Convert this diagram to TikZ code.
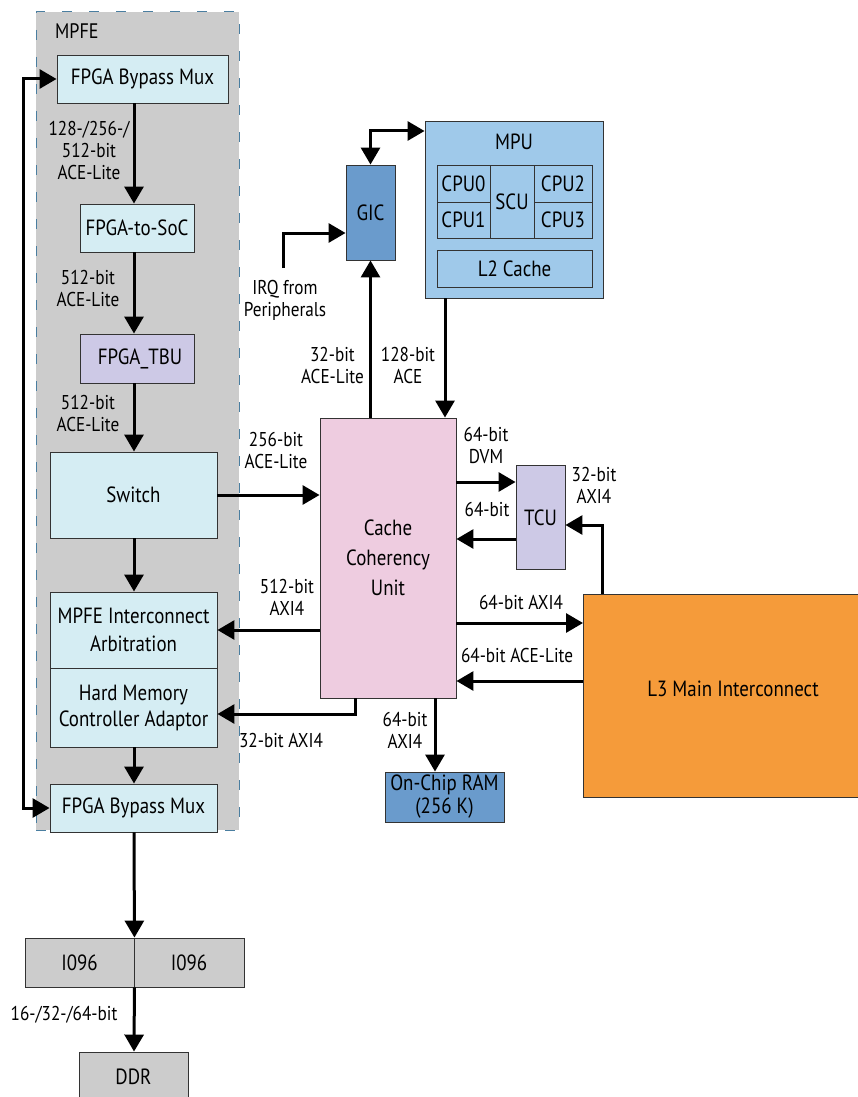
\documentclass[tikz,border=0pt]{standalone}
\usepackage{fontspec}
\setmainfont[FakeStretch=0.86]{PT Sans}
\usetikzlibrary{arrows.meta,calc}
\definecolor{mpfegray}{HTML}{CCCCCC}
\definecolor{dashblue}{HTML}{4A7EA0}
\definecolor{cyanbox}{HTML}{D5EDF3}
\definecolor{lavbox}{HTML}{CDC9E6}
\definecolor{mpubox}{HTML}{9FC9EA}
\definecolor{gicbox}{HTML}{6A9BCC}
\definecolor{ccubox}{HTML}{EECCE0}
\definecolor{l3box}{HTML}{F59B3A}
\definecolor{edge}{HTML}{333333}
\begin{document}
\begin{tikzpicture}[x=1pt,y=-1pt,
  every node/.style={font=\fontsize{22}{27}\selectfont, text=black},
  blk/.style={draw=edge, line width=0.9pt, inner sep=0pt, align=center},
  lbl/.style={inner sep=0pt, align=center, font=\fontsize{20}{22}\selectfont},
  arr/.style={line width=3pt, -{Triangle[length=17pt,width=19pt]}},
  darr/.style={line width=3pt, {Triangle[length=17pt,width=19pt]}-{Triangle[length=17pt,width=19pt]}}]
\useasboundingbox (0,0) rectangle (857,1097);
% MPFE region
\node[fill=mpfegray, draw=dashblue, line width=1pt, dash pattern=on 10pt off 17pt, minimum width=203pt, minimum height=818pt, inner sep=0pt] (mpfe) at (137.5,421) {};
\node[lbl, anchor=west, font=\fontsize{21}{22}\selectfont] (mpfelbl) at (55,31) {MPFE};
% MPFE blocks
\node[blk, fill=cyanbox, minimum width=171pt, minimum height=48pt] (bmux1) at (142.5,79) {FPGA Bypass Mux};
\node[blk, fill=cyanbox, minimum width=114pt, minimum height=48pt] (f2s) at (137,228) {FPGA-to-SoC};
\node[blk, fill=lavbox, minimum width=114pt, minimum height=49pt] (tbu) at (137,358.5) {\hspace*{6pt}FPGA\_TBU};
\node[blk, fill=cyanbox, minimum width=167pt, minimum height=86pt] (sw) at (133.5,495) {Switch};
\node[blk, fill=cyanbox, minimum width=167pt, minimum height=76pt, font=\fontsize{22}{28}\selectfont] (arb) at (133.5,630) {MPFE Interconnect\\Arbitration};
\node[blk, fill=cyanbox, minimum width=167pt, minimum height=79pt, font=\fontsize{22}{26}\selectfont] (hmc) at (133.5,707.5) {Hard Memory\\Controller Adaptor};
\node[blk, fill=cyanbox, minimum width=167pt, minimum height=48pt] (bmux2) at (133.5,808) {FPGA Bypass Mux};
% IO and DDR
\node[blk, fill=mpfegray, minimum width=109pt, minimum height=49pt] (io1) at (79.5,962.5) {I096};
\node[blk, fill=mpfegray, minimum width=110pt, minimum height=49pt] (io2) at (189,962.5) {I096};
\node[blk, fill=mpfegray, minimum width=109pt, minimum height=60pt] (ddr) at (133.5,1082) {\raisebox{10pt}{DDR}};
% MPU
\node[blk, fill=mpubox, minimum width=178pt, minimum height=177pt] (mpu) at (514,209.5) {};
\node[inner sep=0pt] (mputxt) at (514,142) {MPU};
\node[blk, fill=mpubox, minimum width=53pt, minimum height=37pt] (cpu0) at (463.5,183.5) {CPU0};
\node[blk, fill=mpubox, minimum width=53pt, minimum height=36pt] (cpu1) at (463.5,220) {CPU1};
\node[blk, fill=mpubox, minimum width=44pt, minimum height=73pt] (scu) at (512,201.5) {SCU};
\node[blk, fill=mpubox, minimum width=58pt, minimum height=37pt] (cpu2) at (563,183.5) {CPU2};
\node[blk, fill=mpubox, minimum width=58pt, minimum height=36pt] (cpu3) at (563,220) {CPU3};
\node[blk, fill=mpubox, minimum width=155pt, minimum height=37pt] (l2) at (514.5,268.5) {L2 Cache};
% GIC
\node[blk, fill=gicbox, minimum width=49pt, minimum height=95pt] (gic) at (370.5,212.5) {GIC};
% CCU
\node[blk, fill=ccubox, minimum width=136pt, minimum height=280pt, font=\fontsize{22}{30}\selectfont] (ccu) at (388,558) {Cache\\Coherency\\Unit};
% TCU
\node[blk, fill=lavbox, minimum width=49pt, minimum height=104pt] (tcu) at (540.5,517.5) {TCU};
% L3
\node[blk, fill=l3box, minimum width=290pt, minimum height=203pt, anchor=north west] (l3) at (583,594) {};
\node[inner sep=0pt] (l3txt) at (733,689) {L3 Main Interconnect};
% On-chip RAM
\node[blk, fill=gicbox, minimum width=119pt, minimum height=50pt, font=\fontsize{22}{23}\selectfont] (ocr) at (444.5,797) {On-Chip RAM\\(256 K)};
% IRQ
\node[lbl] (irq) at (285,300) {IRQ from\\Peripherals};
\coordinate (irqs) at (283,268);
% coordinates for connector positions
\coordinate (colX) at (134,0);
\coordinate (bypL) at (23,0);
\coordinate (gicmpu) at (0,131);
\coordinate (irqy) at (0,233);
\coordinate (aceX) at (445,0);
\coordinate (dvmY) at (0,482);
\coordinate (tcuY) at (0,539);
\coordinate (axi32Y) at (0,525);
\coordinate (l3X) at (602,0);
\coordinate (axi64Y) at (0,623);
\coordinate (aceliteY) at (0,681);
\coordinate (ocrX) at (435,0);
\coordinate (axi512Y) at (0,630);
\coordinate (hmcX) at (355,0);
\coordinate (hmcY) at (0,714);
% connectors in MPFE
\draw[arr] (colX |- bmux1.south) -- (colX |- f2s.north);
\draw[arr] (colX |- f2s.south) -- (colX |- tbu.north);
\draw[arr] (colX |- tbu.south) -- (colX |- sw.north);
\draw[arr] (colX |- sw.south) -- (colX |- arb.north);
\draw[arr] (colX |- hmc.south) -- (colX |- bmux2.north);
\draw[arr] (colX |- bmux2.south) -- (io1.north east);
\draw[arr] (io1.south east) -- (colX |- ddr.north);
\draw[darr] (bmux1.west) -- (bypL |- bmux1.west) -- (bypL |- bmux2.west) -- (bmux2.west);
% labels MPFE
\node[lbl] (l1) at (89,150) {128-/256-/\\512-bit\\ACE-Lite};
\node[lbl] (l2l) at (88,288) {512-bit\\ACE-Lite};
\node[lbl] (l3l) at (88,413) {512-bit\\ACE-Lite};
\node[lbl] (l4) at (64,1015) {16-/32-/64-bit};
% GIC/MPU
\draw[darr] (gic.north) -- (gic.north |- gicmpu) -- (mpu.west |- gicmpu);
\draw[arr] (irqs) -- (irqs |- irqy) -- (gic.west |- irqy);
\draw[arr] (ccu.north -| gic.south) -- (gic.south);
\draw[arr] (aceX |- mpu.south) -- (aceX |- ccu.north);
\node[lbl, anchor=east] (l5) at (364,365) {32-bit\\ACE-Lite};
\node[lbl] (l6) at (408,365) {128-bit\\ACE};
% switch to ccu
\draw[arr] (sw.east) -- (ccu.west |- sw.east);
\node[lbl] (l7) at (276,450) {256-bit\\ACE-Lite};
% TCU
\draw[arr] (ccu.east |- dvmY) -- (tcu.west |- dvmY);
\draw[arr] (tcu.west |- tcuY) -- (ccu.east |- tcuY);
\draw[arr] (l3X |- l3.north) -- (l3X |- axi32Y) -- (tcu.east |- axi32Y);
\node[lbl] (l8) at (486,445) {64-bit\\DVM};
\node[lbl] (l9) at (487,509) {64-bit};
\node[lbl] (l10) at (594,485) {32-bit\\AXI4};
% L3
\draw[arr] (ccu.east |- axi64Y) -- (l3.west |- axi64Y);
\draw[arr] (l3.west |- aceliteY) -- (ccu.east |- aceliteY);
\node[lbl] (l11) at (521,602) {64-bit AXI4};
\node[lbl] (l12) at (517,655) {64-bit ACE-Lite};
% OCR
\draw[arr] (ocrX |- ccu.south) -- (ocrX |- ocr.north);
\node[lbl] (l13) at (405,730) {64-bit\\AXI4};
% to MPFE
\draw[arr] (ccu.west |- axi512Y) -- (arb.east |- axi512Y);
\draw[arr] (hmcX |- ccu.south) -- (hmcX |- hmcY) -- (hmc.east |- hmcY);
\node[lbl] (l14) at (287,597) {512-bit\\AXI4};
\node[lbl] (l15) at (281,740) {32-bit AXI4};
\end{tikzpicture}
\end{document}
